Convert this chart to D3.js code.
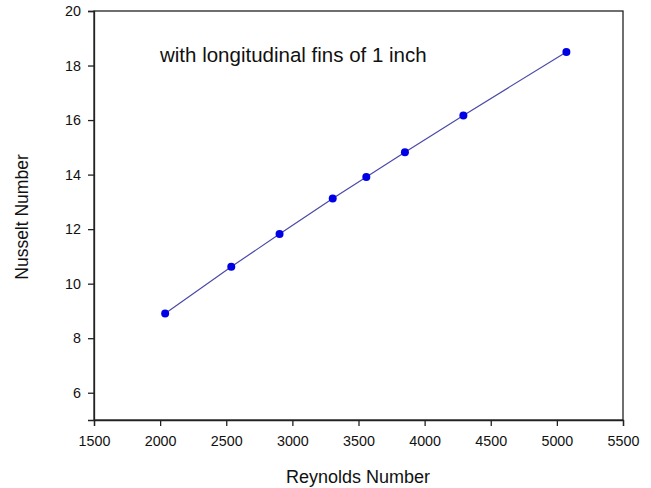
<!DOCTYPE html>
<html><head><meta charset="utf-8">
<script src="https://cdn.jsdelivr.net/npm/d3@7"></script>
<style>body{margin:0;background:#fff;} text{font-family:Arial,"Liberation Sans",sans-serif;}</style>
</head><body>
<svg id="c" width="651" height="488"></svg>
<script>
const reynolds = [2038, 2538, 2903, 3305, 3559, 3851, 4293, 5072];
const nusselt = [8.91, 10.62, 11.82, 13.12, 13.91, 14.82, 16.17, 18.5];
const xTicks = [1500, 2000, 2500, 3000, 3500, 4000, 4500, 5000, 5500];
const yTicks = [6, 8, 10, 12, 14, 16, 18, 20];
const annotation = "with longitudinal fins of 1 inch";

const svg = d3.select("#c");
const L = 94, R = 623, T = 11, B = 420;
const x = d3.scaleLinear().domain([1500, 5500]).range([L, R]);
const y = d3.scaleLinear().domain([5, 20]).range([B, T]);

svg.append("rect").attr("x", L).attr("y", T).attr("width", R - L).attr("height", B - T)
  .attr("fill", "none").attr("stroke", "#222").attr("stroke-width", 1.3);

const xa = svg.append("g").attr("transform", `translate(0,${B})`)
  .call(d3.axisBottom(x).tickValues(xTicks).tickSize(6).tickPadding(10).tickFormat(d3.format("d")));
const ya = svg.append("g").attr("transform", `translate(${L},0)`)
  .call(d3.axisLeft(y).tickValues(yTicks).tickSize(6).tickPadding(7).tickFormat(d3.format("d")));
[xa, ya].forEach(a => {
  a.select(".domain").attr("stroke", "#222").attr("stroke-width", 1.3);
  a.selectAll(".tick line").attr("stroke", "#222").attr("stroke-width", 1.3);
  a.selectAll("text").attr("font-size", 14.3).attr("fill", "#111").style("font-family", "Arial, 'Liberation Sans', sans-serif");
});

const data = reynolds.map((r, i) => ({r, n: nusselt[i]}));
svg.append("path").datum(data)
  .attr("d", d3.line().x(d => x(d.r)).y(d => y(d.n)))
  .attr("fill", "none").attr("stroke", "#4a4aa8").attr("stroke-width", 1.2);
svg.selectAll("circle.pt").data(data).join("circle").attr("class", "pt")
  .attr("cx", d => x(d.r)).attr("cy", d => y(d.n)).attr("r", 4)
  .attr("fill", "#0000e6");

svg.append("text").attr("x", 160).attr("y", 62).attr("font-size", 20.5).attr("fill", "#111").text(annotation);
svg.append("text").attr("x", 358).attr("y", 483).attr("text-anchor", "middle")
  .attr("font-size", 18).attr("fill", "#111").text("Reynolds Number");
svg.append("text").attr("transform", `translate(28,217) rotate(-90)`).attr("text-anchor", "middle")
  .attr("font-size", 17.5).attr("fill", "#111").text("Nusselt Number");
</script>
</body></html>
